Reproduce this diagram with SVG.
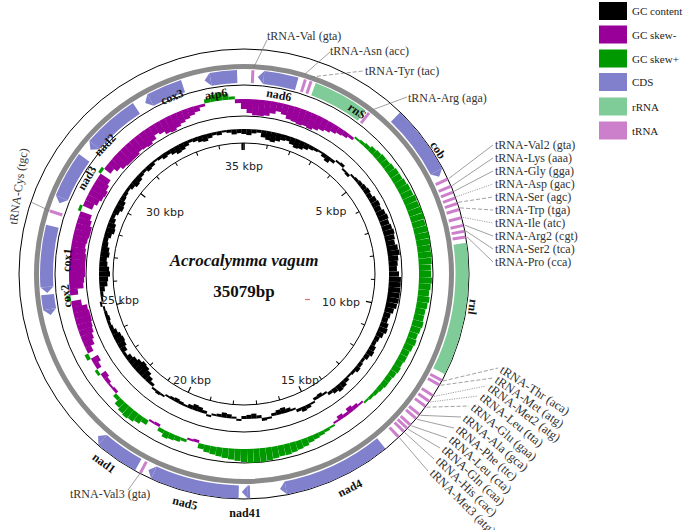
<svg xmlns="http://www.w3.org/2000/svg" width="685" height="530" viewBox="0 0 685 530">
<style>
.ln{fill:none;stroke:#000;stroke-width:1}
.bb{fill:none;stroke:#8a8a8a;stroke-width:5}
.m{fill:#990099}.g{fill:#009900}.k{fill:#000}
.sk rect{x:-3.1px;width:6.2px}
.gc rect{x:-2.6px;width:5.2px}
.cds{fill:none;stroke:#8080cc;stroke-width:13}
.rr{fill:none;stroke:#80cc99;stroke-width:13}
.ca{fill:#8080cc}
.tr{fill:#cc80cc}
.tk{fill:#000}
.gl{font-family:"Liberation Serif",serif;font-weight:bold;font-size:12px;fill:#111;text-anchor:middle}
.tl{font-family:"Liberation Serif",serif;font-size:12px;fill:#333}
.tb{font-size:12.5px}
.kb{font-family:"DejaVu Sans",sans-serif;font-size:11px;fill:#222;text-anchor:middle}
.lg{font-family:"Liberation Serif",serif;font-size:11px;fill:#222}
.ld{fill:none;stroke:#777;stroke-width:0.7}
.dt{stroke-dasharray:1.2 1.2}
.ds{stroke-dasharray:4 2}
</style>
<rect width="685" height="530" fill="#fff"/>

<g id="rings">
<circle class="ln" cx="244" cy="274" r="131"/>
<circle class="ln" cx="244" cy="274" r="158"/>
<circle class="ln" cx="244" cy="274" r="189"/>
<circle class="bb" cx="244" cy="274" r="207.5"/>
<circle class="ln" cx="244" cy="274" r="225"/>
</g>

<g id="gc-content" class="gc" transform="translate(244 274)">
<rect class="k" y="-145" height="5" transform="rotate(0)"/>
<rect class="k" y="-145" height="6" transform="rotate(2)"/>
<rect class="k" y="-145" height="4" transform="rotate(4)"/>
<rect class="k" y="-145" height="3" transform="rotate(6)"/>
<rect class="k" y="-145" height="7" transform="rotate(8)"/>
<rect class="k" y="-145" height="9" transform="rotate(10)"/>
<rect class="k" y="-145" height="10" transform="rotate(12)"/>
<rect class="k" y="-145" height="8" transform="rotate(14)"/>
<rect class="k" y="-145" height="6" transform="rotate(16)"/>
<rect class="k" y="-145" height="5" transform="rotate(18)"/>
<rect class="k" y="-145" height="7" transform="rotate(20)"/>
<rect class="k" y="-145" height="9" transform="rotate(22)"/>
<rect class="k" y="-145" height="8" transform="rotate(24)"/>
<rect class="k" y="-145" height="6" transform="rotate(26)"/>
<rect class="k" y="-145" height="4" transform="rotate(28)"/>
<rect class="k" y="-145" height="3" transform="rotate(30)"/>
<rect class="k" y="-145" height="2" transform="rotate(32)"/>
<rect class="k" y="-145" height="4" transform="rotate(34)"/>
<rect class="k" y="-145" height="6" transform="rotate(36)"/>
<rect class="k" y="-145" height="3" transform="rotate(38)"/>
<rect class="k" y="-147" height="2" transform="rotate(40)"/>
<rect class="k" y="-148" height="3" transform="rotate(42)"/>
<rect class="k" y="-145" height="2" transform="rotate(44)"/>
<rect class="k" y="-145" height="3" transform="rotate(46)"/>
<rect class="k" y="-147" height="2" transform="rotate(48)"/>
<rect class="k" y="-148" height="3" transform="rotate(50)"/>
<rect class="k" y="-149" height="4" transform="rotate(52)"/>
<rect class="k" y="-150" height="5" transform="rotate(54)"/>
<rect class="k" y="-151" height="6" transform="rotate(56)"/>
<rect class="k" y="-150" height="5" transform="rotate(58)"/>
<rect class="k" y="-152" height="7" transform="rotate(60)"/>
<rect class="k" y="-153" height="8" transform="rotate(62)"/>
<rect class="k" y="-152" height="7" transform="rotate(64)"/>
<rect class="k" y="-154" height="9" transform="rotate(66)"/>
<rect class="k" y="-155" height="10" transform="rotate(68)"/>
<rect class="k" y="-154" height="9" transform="rotate(70)"/>
<rect class="k" y="-155" height="10" transform="rotate(72)"/>
<rect class="k" y="-156" height="11" transform="rotate(74)"/>
<rect class="k" y="-155" height="10" transform="rotate(76)"/>
<rect class="k" y="-154" height="9" transform="rotate(78)"/>
<rect class="k" y="-156" height="11" transform="rotate(80)"/>
<rect class="k" y="-157" height="12" transform="rotate(82)"/>
<rect class="k" y="-155" height="10" transform="rotate(84)"/>
<rect class="k" y="-154" height="9" transform="rotate(86)"/>
<rect class="k" y="-153" height="8" transform="rotate(88)"/>
<rect class="k" y="-155" height="10" transform="rotate(90)"/>
<rect class="k" y="-157" height="12" transform="rotate(92)"/>
<rect class="k" y="-157" height="12" transform="rotate(94)"/>
<rect class="k" y="-157" height="12" transform="rotate(96)"/>
<rect class="k" y="-157" height="12" transform="rotate(98)"/>
<rect class="k" y="-157" height="12" transform="rotate(100)"/>
<rect class="k" y="-156" height="11" transform="rotate(102)"/>
<rect class="k" y="-154" height="9" transform="rotate(104)"/>
<rect class="k" y="-152" height="7" transform="rotate(106)"/>
<rect class="k" y="-151" height="6" transform="rotate(108)"/>
<rect class="k" y="-153" height="8" transform="rotate(110)"/>
<rect class="k" y="-154" height="9" transform="rotate(112)"/>
<rect class="k" y="-152" height="7" transform="rotate(114)"/>
<rect class="k" y="-150" height="5" transform="rotate(116)"/>
<rect class="k" y="-149" height="4" transform="rotate(118)"/>
<rect class="k" y="-151" height="6" transform="rotate(120)"/>
<rect class="k" y="-152" height="7" transform="rotate(122)"/>
<rect class="k" y="-150" height="5" transform="rotate(124)"/>
<rect class="k" y="-148" height="3" transform="rotate(126)"/>
<rect class="k" y="-149" height="4" transform="rotate(128)"/>
<rect class="k" y="-150" height="5" transform="rotate(130)"/>
<rect class="k" y="-148" height="3" transform="rotate(132)"/>
<rect class="k" y="-147" height="2" transform="rotate(134)"/>
<rect class="k" y="-149" height="4" transform="rotate(136)"/>
<rect class="k" y="-151" height="6" transform="rotate(138)"/>
<rect class="k" y="-152" height="7" transform="rotate(140)"/>
<rect class="k" y="-150" height="5" transform="rotate(142)"/>
<rect class="k" y="-148" height="3" transform="rotate(144)"/>
<rect class="k" y="-145" height="2" transform="rotate(146)"/>
<rect class="k" y="-145" height="4" transform="rotate(148)"/>
<rect class="k" y="-145" height="3" transform="rotate(150)"/>
<rect class="k" y="-147" height="2" transform="rotate(152)"/>
<rect class="k" y="-149" height="4" transform="rotate(154)"/>
<rect class="k" y="-150" height="5" transform="rotate(156)"/>
<rect class="k" y="-148" height="3" transform="rotate(158)"/>
<rect class="k" y="-145" height="2" transform="rotate(160)"/>
<rect class="k" y="-145" height="4" transform="rotate(162)"/>
<rect class="k" y="-145" height="6" transform="rotate(164)"/>
<rect class="k" y="-145" height="5" transform="rotate(166)"/>
<rect class="k" y="-145" height="3" transform="rotate(168)"/>
<rect class="k" y="-147" height="2" transform="rotate(170)"/>
<rect class="k" y="-148" height="3" transform="rotate(172)"/>
<rect class="k" y="-145" height="3" transform="rotate(174)"/>
<rect class="k" y="-145" height="5" transform="rotate(176)"/>
<rect class="k" y="-145" height="4" transform="rotate(178)"/>
<rect class="k" y="-145" height="3" transform="rotate(180)"/>
<rect class="k" y="-147" height="2" transform="rotate(182)"/>
<rect class="k" y="-145" height="2" transform="rotate(184)"/>
<rect class="k" y="-145" height="4" transform="rotate(186)"/>
<rect class="k" y="-145" height="5" transform="rotate(188)"/>
<rect class="k" y="-145" height="3" transform="rotate(190)"/>
<rect class="k" y="-145" height="2" transform="rotate(192)"/>
<rect class="k" y="-147" height="2" transform="rotate(194)"/>
<rect class="k" y="-145" height="3" transform="rotate(196)"/>
<rect class="k" y="-145" height="5" transform="rotate(198)"/>
<rect class="k" y="-145" height="6" transform="rotate(200)"/>
<rect class="k" y="-145" height="4" transform="rotate(202)"/>
<rect class="k" y="-145" height="2" transform="rotate(204)"/>
<rect class="k" y="-145" height="3" transform="rotate(206)"/>
<rect class="k" y="-145" height="4" transform="rotate(208)"/>
<rect class="k" y="-145" height="3" transform="rotate(210)"/>
<rect class="k" y="-145" height="2" transform="rotate(212)"/>
<rect class="k" y="-147" height="2" transform="rotate(214)"/>
<rect class="k" y="-148" height="3" transform="rotate(216)"/>
<rect class="k" y="-147" height="2" transform="rotate(218)"/>
<rect class="k" y="-145" height="3" transform="rotate(220)"/>
<rect class="k" y="-145" height="6" transform="rotate(222)"/>
<rect class="k" y="-145" height="9" transform="rotate(224)"/>
<rect class="k" y="-145" height="11" transform="rotate(226)"/>
<rect class="k" y="-145" height="12" transform="rotate(228)"/>
<rect class="k" y="-145" height="10" transform="rotate(230)"/>
<rect class="k" y="-145" height="8" transform="rotate(232)"/>
<rect class="k" y="-145" height="6" transform="rotate(234)"/>
<rect class="k" y="-145" height="3" transform="rotate(236)"/>
<rect class="k" y="-145" height="6" transform="rotate(238)"/>
<rect class="k" y="-145" height="8" transform="rotate(240)"/>
<rect class="k" y="-145" height="9" transform="rotate(242)"/>
<rect class="k" y="-145" height="8" transform="rotate(244)"/>
<rect class="k" y="-145" height="6" transform="rotate(246)"/>
<rect class="k" y="-145" height="4" transform="rotate(248)"/>
<rect class="k" y="-145" height="3" transform="rotate(250)"/>
<rect class="k" y="-145" height="4" transform="rotate(252)"/>
<rect class="k" y="-145" height="3" transform="rotate(254)"/>
<rect class="k" y="-145" height="2" transform="rotate(256)"/>
<rect class="k" y="-147" height="2" transform="rotate(258)"/>
<rect class="k" y="-145" height="2" transform="rotate(260)"/>
<rect class="k" y="-145" height="3" transform="rotate(262)"/>
<rect class="k" y="-145" height="5" transform="rotate(264)"/>
<rect class="k" y="-145" height="8" transform="rotate(266)"/>
<rect class="k" y="-145" height="9" transform="rotate(268)"/>
<rect class="k" y="-145" height="11" transform="rotate(270)"/>
<rect class="k" y="-145" height="10" transform="rotate(272)"/>
<rect class="k" y="-145" height="8" transform="rotate(274)"/>
<rect class="k" y="-145" height="7" transform="rotate(276)"/>
<rect class="k" y="-145" height="9" transform="rotate(278)"/>
<rect class="k" y="-145" height="8" transform="rotate(280)"/>
<rect class="k" y="-145" height="6" transform="rotate(282)"/>
<rect class="k" y="-145" height="5" transform="rotate(284)"/>
<rect class="k" y="-145" height="7" transform="rotate(286)"/>
<rect class="k" y="-145" height="9" transform="rotate(288)"/>
<rect class="k" y="-145" height="8" transform="rotate(290)"/>
<rect class="k" y="-145" height="6" transform="rotate(292)"/>
<rect class="k" y="-145" height="4" transform="rotate(294)"/>
<rect class="k" y="-145" height="6" transform="rotate(296)"/>
<rect class="k" y="-145" height="8" transform="rotate(298)"/>
<rect class="k" y="-145" height="7" transform="rotate(300)"/>
<rect class="k" y="-145" height="5" transform="rotate(302)"/>
<rect class="k" y="-145" height="4" transform="rotate(304)"/>
<rect class="k" y="-145" height="3" transform="rotate(306)"/>
<rect class="k" y="-145" height="5" transform="rotate(308)"/>
<rect class="k" y="-145" height="7" transform="rotate(310)"/>
<rect class="k" y="-145" height="6" transform="rotate(312)"/>
<rect class="k" y="-145" height="4" transform="rotate(314)"/>
<rect class="k" y="-145" height="3" transform="rotate(316)"/>
<rect class="k" y="-145" height="5" transform="rotate(318)"/>
<rect class="k" y="-145" height="4" transform="rotate(320)"/>
<rect class="k" y="-145" height="2" transform="rotate(322)"/>
<rect class="k" y="-145" height="3" transform="rotate(324)"/>
<rect class="k" y="-145" height="5" transform="rotate(326)"/>
<rect class="k" y="-145" height="4" transform="rotate(328)"/>
<rect class="k" y="-145" height="6" transform="rotate(330)"/>
<rect class="k" y="-145" height="8" transform="rotate(332)"/>
<rect class="k" y="-145" height="7" transform="rotate(334)"/>
<rect class="k" y="-145" height="5" transform="rotate(336)"/>
<rect class="k" y="-145" height="3" transform="rotate(338)"/>
<rect class="k" y="-145" height="4" transform="rotate(340)"/>
<rect class="k" y="-145" height="6" transform="rotate(342)"/>
<rect class="k" y="-145" height="7" transform="rotate(344)"/>
<rect class="k" y="-145" height="5" transform="rotate(346)"/>
<rect class="k" y="-145" height="3" transform="rotate(348)"/>
<rect class="k" y="-145" height="4" transform="rotate(350)"/>
<rect class="k" y="-145" height="2" transform="rotate(352)"/>
<rect class="k" y="-145" height="3" transform="rotate(354)"/>
<rect class="k" y="-145" height="5" transform="rotate(356)"/>
<rect class="k" y="-145" height="4" transform="rotate(358)"/>
</g>

<g id="gc-skew" class="sk" transform="translate(244 274)">
<rect class="m" y="-175" height="10" transform="rotate(0)"/>
<rect class="m" y="-175" height="14" transform="rotate(2)"/>
<rect class="m" y="-175" height="16" transform="rotate(4)"/>
<rect class="m" y="-175" height="16" transform="rotate(6)"/>
<rect class="m" y="-175" height="15" transform="rotate(8)"/>
<rect class="m" y="-175" height="12" transform="rotate(10)"/>
<rect class="m" y="-175" height="9" transform="rotate(12)"/>
<rect class="m" y="-175" height="11" transform="rotate(14)"/>
<rect class="m" y="-175" height="14" transform="rotate(16)"/>
<rect class="m" y="-175" height="15" transform="rotate(18)"/>
<rect class="m" y="-175" height="16" transform="rotate(20)"/>
<rect class="m" y="-175" height="15" transform="rotate(22)"/>
<rect class="m" y="-175" height="16" transform="rotate(24)"/>
<rect class="m" y="-175" height="14" transform="rotate(26)"/>
<rect class="m" y="-175" height="12" transform="rotate(28)"/>
<rect class="m" y="-175" height="10" transform="rotate(30)"/>
<rect class="m" y="-175" height="8" transform="rotate(32)"/>
<rect class="m" y="-175" height="6" transform="rotate(34)"/>
<rect class="m" y="-175" height="5" transform="rotate(36)"/>
<rect class="m" y="-175" height="3" transform="rotate(38)"/>
<rect class="g" y="-177" height="2" transform="rotate(40)"/>
<rect class="g" y="-178" height="3" transform="rotate(42)"/>
<rect class="g" y="-179" height="4" transform="rotate(44)"/>
<rect class="g" y="-181" height="6" transform="rotate(46)"/>
<rect class="g" y="-182" height="7" transform="rotate(48)"/>
<rect class="g" y="-183" height="8" transform="rotate(50)"/>
<rect class="g" y="-183" height="8" transform="rotate(52)"/>
<rect class="g" y="-184" height="9" transform="rotate(54)"/>
<rect class="g" y="-185" height="10" transform="rotate(56)"/>
<rect class="g" y="-185" height="10" transform="rotate(58)"/>
<rect class="g" y="-186" height="11" transform="rotate(60)"/>
<rect class="g" y="-187" height="12" transform="rotate(62)"/>
<rect class="g" y="-187" height="12" transform="rotate(64)"/>
<rect class="g" y="-188" height="13" transform="rotate(66)"/>
<rect class="g" y="-188" height="13" transform="rotate(68)"/>
<rect class="g" y="-189" height="14" transform="rotate(70)"/>
<rect class="g" y="-189" height="14" transform="rotate(72)"/>
<rect class="g" y="-188" height="13" transform="rotate(74)"/>
<rect class="g" y="-189" height="14" transform="rotate(76)"/>
<rect class="g" y="-189" height="14" transform="rotate(78)"/>
<rect class="g" y="-189" height="14" transform="rotate(80)"/>
<rect class="g" y="-188" height="13" transform="rotate(82)"/>
<rect class="g" y="-189" height="14" transform="rotate(84)"/>
<rect class="g" y="-188" height="13" transform="rotate(86)"/>
<rect class="g" y="-187" height="12" transform="rotate(88)"/>
<rect class="g" y="-187" height="12" transform="rotate(90)"/>
<rect class="g" y="-188" height="13" transform="rotate(92)"/>
<rect class="g" y="-187" height="12" transform="rotate(94)"/>
<rect class="g" y="-186" height="11" transform="rotate(96)"/>
<rect class="g" y="-187" height="12" transform="rotate(98)"/>
<rect class="g" y="-186" height="11" transform="rotate(100)"/>
<rect class="g" y="-185" height="10" transform="rotate(102)"/>
<rect class="g" y="-185" height="10" transform="rotate(104)"/>
<rect class="g" y="-186" height="11" transform="rotate(106)"/>
<rect class="g" y="-185" height="10" transform="rotate(108)"/>
<rect class="g" y="-184" height="9" transform="rotate(110)"/>
<rect class="g" y="-185" height="10" transform="rotate(112)"/>
<rect class="g" y="-184" height="9" transform="rotate(114)"/>
<rect class="g" y="-183" height="8" transform="rotate(116)"/>
<rect class="g" y="-183" height="8" transform="rotate(118)"/>
<rect class="g" y="-182" height="7" transform="rotate(120)"/>
<rect class="g" y="-183" height="8" transform="rotate(122)"/>
<rect class="g" y="-182" height="7" transform="rotate(124)"/>
<rect class="g" y="-181" height="6" transform="rotate(126)"/>
<rect class="g" y="-181" height="6" transform="rotate(128)"/>
<rect class="g" y="-180" height="5" transform="rotate(130)"/>
<rect class="g" y="-179" height="4" transform="rotate(132)"/>
<rect class="g" y="-178" height="3" transform="rotate(134)"/>
<rect class="g" y="-177" height="2" transform="rotate(136)"/>
<rect class="m" y="-175" height="2" transform="rotate(138)"/>
<rect class="m" y="-175" height="4" transform="rotate(140)"/>
<rect class="m" y="-175" height="6" transform="rotate(142)"/>
<rect class="m" y="-175" height="3" transform="rotate(144)"/>
<rect class="m" y="-175" height="5" transform="rotate(146)"/>
<rect class="m" y="-175" height="2" transform="rotate(148)"/>
<rect class="g" y="-177" height="2" transform="rotate(150)"/>
<rect class="g" y="-178" height="3" transform="rotate(152)"/>
<rect class="g" y="-179" height="4" transform="rotate(154)"/>
<rect class="g" y="-180" height="5" transform="rotate(156)"/>
<rect class="g" y="-181" height="6" transform="rotate(158)"/>
<rect class="g" y="-183" height="8" transform="rotate(160)"/>
<rect class="g" y="-184" height="9" transform="rotate(162)"/>
<rect class="g" y="-185" height="10" transform="rotate(164)"/>
<rect class="g" y="-186" height="11" transform="rotate(166)"/>
<rect class="g" y="-186" height="11" transform="rotate(168)"/>
<rect class="g" y="-187" height="12" transform="rotate(170)"/>
<rect class="g" y="-188" height="13" transform="rotate(172)"/>
<rect class="g" y="-189" height="14" transform="rotate(174)"/>
<rect class="g" y="-189" height="14" transform="rotate(176)"/>
<rect class="g" y="-189" height="14" transform="rotate(178)"/>
<rect class="g" y="-188" height="13" transform="rotate(180)"/>
<rect class="g" y="-187" height="12" transform="rotate(182)"/>
<rect class="g" y="-186" height="11" transform="rotate(184)"/>
<rect class="g" y="-185" height="10" transform="rotate(186)"/>
<rect class="g" y="-184" height="9" transform="rotate(188)"/>
<rect class="g" y="-183" height="8" transform="rotate(190)"/>
<rect class="g" y="-182" height="7" transform="rotate(192)"/>
<rect class="g" y="-180" height="5" transform="rotate(194)"/>
<rect class="m" y="-175" height="3" transform="rotate(196)"/>
<rect class="m" y="-175" height="2" transform="rotate(198)"/>
<rect class="g" y="-178" height="3" transform="rotate(200)"/>
<rect class="g" y="-180" height="5" transform="rotate(202)"/>
<rect class="g" y="-181" height="6" transform="rotate(204)"/>
<rect class="g" y="-182" height="7" transform="rotate(206)"/>
<rect class="g" y="-179" height="4" transform="rotate(208)"/>
<rect class="m" y="-175" height="3" transform="rotate(210)"/>
<rect class="m" y="-175" height="2" transform="rotate(212)"/>
<rect class="g" y="-180" height="5" transform="rotate(214)"/>
<rect class="g" y="-183" height="8" transform="rotate(216)"/>
<rect class="g" y="-185" height="10" transform="rotate(218)"/>
<rect class="g" y="-186" height="11" transform="rotate(220)"/>
<rect class="g" y="-185" height="10" transform="rotate(222)"/>
<rect class="g" y="-183" height="8" transform="rotate(224)"/>
<rect class="g" y="-179" height="4" transform="rotate(226)"/>
<rect class="m" y="-175" height="3" transform="rotate(228)"/>
<rect class="m" y="-175" height="2" transform="rotate(230)"/>
<rect class="m" y="-175" height="4" transform="rotate(232)"/>
<rect class="m" y="-175" height="6" transform="rotate(234)"/>
<rect class="g" y="-178" height="3" transform="rotate(236)"/>
<rect class="m" y="-175" height="5" transform="rotate(238)"/>
<rect class="m" y="-175" height="8" transform="rotate(240)"/>
<rect class="g" y="-179" height="4" transform="rotate(242)"/>
<rect class="m" y="-175" height="6" transform="rotate(244)"/>
<rect class="m" y="-175" height="10" transform="rotate(246)"/>
<rect class="m" y="-175" height="12" transform="rotate(248)"/>
<rect class="m" y="-175" height="14" transform="rotate(250)"/>
<rect class="m" y="-175" height="15" transform="rotate(252)"/>
<rect class="m" y="-175" height="16" transform="rotate(254)"/>
<rect class="m" y="-175" height="16" transform="rotate(256)"/>
<rect class="m" y="-175" height="15" transform="rotate(258)"/>
<rect class="m" y="-175" height="10" transform="rotate(260)"/>
<rect class="g" y="-179" height="4" transform="rotate(262)"/>
<rect class="m" y="-175" height="8" transform="rotate(264)"/>
<rect class="m" y="-175" height="14" transform="rotate(266)"/>
<rect class="m" y="-175" height="15" transform="rotate(268)"/>
<rect class="m" y="-175" height="16" transform="rotate(270)"/>
<rect class="m" y="-175" height="16" transform="rotate(272)"/>
<rect class="m" y="-175" height="16" transform="rotate(274)"/>
<rect class="m" y="-175" height="16" transform="rotate(276)"/>
<rect class="m" y="-175" height="15" transform="rotate(278)"/>
<rect class="m" y="-175" height="14" transform="rotate(280)"/>
<rect class="m" y="-175" height="15" transform="rotate(282)"/>
<rect class="m" y="-175" height="16" transform="rotate(284)"/>
<rect class="m" y="-175" height="16" transform="rotate(286)"/>
<rect class="m" y="-175" height="14" transform="rotate(288)"/>
<rect class="m" y="-175" height="12" transform="rotate(290)"/>
<rect class="g" y="-178" height="3" transform="rotate(292)"/>
<rect class="m" y="-175" height="10" transform="rotate(294)"/>
<rect class="m" y="-175" height="13" transform="rotate(296)"/>
<rect class="m" y="-175" height="15" transform="rotate(298)"/>
<rect class="m" y="-175" height="16" transform="rotate(300)"/>
<rect class="m" y="-175" height="14" transform="rotate(302)"/>
<rect class="m" y="-175" height="12" transform="rotate(304)"/>
<rect class="g" y="-178" height="3" transform="rotate(306)"/>
<rect class="m" y="-175" height="8" transform="rotate(308)"/>
<rect class="m" y="-175" height="12" transform="rotate(310)"/>
<rect class="m" y="-175" height="15" transform="rotate(312)"/>
<rect class="m" y="-175" height="16" transform="rotate(314)"/>
<rect class="m" y="-175" height="16" transform="rotate(316)"/>
<rect class="m" y="-175" height="16" transform="rotate(318)"/>
<rect class="m" y="-175" height="14" transform="rotate(320)"/>
<rect class="m" y="-175" height="15" transform="rotate(322)"/>
<rect class="m" y="-175" height="16" transform="rotate(324)"/>
<rect class="m" y="-175" height="14" transform="rotate(326)"/>
<rect class="m" y="-175" height="10" transform="rotate(328)"/>
<rect class="m" y="-175" height="12" transform="rotate(330)"/>
<rect class="m" y="-175" height="15" transform="rotate(332)"/>
<rect class="m" y="-175" height="16" transform="rotate(334)"/>
<rect class="m" y="-175" height="14" transform="rotate(336)"/>
<rect class="m" y="-175" height="12" transform="rotate(338)"/>
<rect class="m" y="-175" height="10" transform="rotate(340)"/>
<rect class="m" y="-175" height="8" transform="rotate(342)"/>
<rect class="m" y="-175" height="6" transform="rotate(344)"/>
<rect class="m" y="-175" height="3" transform="rotate(346)"/>
<rect class="g" y="-179" height="4" transform="rotate(348)"/>
<rect class="g" y="-182" height="7" transform="rotate(350)"/>
<rect class="g" y="-183" height="8" transform="rotate(352)"/>
<rect class="g" y="-181" height="6" transform="rotate(354)"/>
<rect class="g" y="-178" height="3" transform="rotate(356)"/>
<rect class="m" y="-175" height="4" transform="rotate(358)"/>
</g>

<g id="ticks" transform="translate(244 274)">
<rect class="tk" x="-0.8" y="-131" width="1.6" height="7" transform="rotate(0)"/>
<rect class="tk" x="-0.5" y="-131" width="1" height="4" transform="rotate(10.26)"/>
<rect class="tk" x="-0.5" y="-131" width="1" height="4" transform="rotate(20.53)"/>
<rect class="tk" x="-0.5" y="-131" width="1" height="4" transform="rotate(30.79)"/>
<rect class="tk" x="-0.5" y="-131" width="1" height="4" transform="rotate(41.05)"/>
<rect class="tk" x="-0.6" y="-131" width="1.2" height="6" transform="rotate(51.31)"/>
<rect class="tk" x="-0.5" y="-131" width="1" height="4" transform="rotate(61.58)"/>
<rect class="tk" x="-0.5" y="-131" width="1" height="4" transform="rotate(71.84)"/>
<rect class="tk" x="-0.5" y="-131" width="1" height="4" transform="rotate(82.10)"/>
<rect class="tk" x="-0.5" y="-131" width="1" height="4" transform="rotate(92.36)"/>
<rect class="tk" x="-0.6" y="-131" width="1.2" height="6" transform="rotate(102.63)"/>
<rect class="tk" x="-0.5" y="-131" width="1" height="4" transform="rotate(112.89)"/>
<rect class="tk" x="-0.5" y="-131" width="1" height="4" transform="rotate(123.15)"/>
<rect class="tk" x="-0.5" y="-131" width="1" height="4" transform="rotate(133.41)"/>
<rect class="tk" x="-0.5" y="-131" width="1" height="4" transform="rotate(143.68)"/>
<rect class="tk" x="-0.6" y="-131" width="1.2" height="6" transform="rotate(153.94)"/>
<rect class="tk" x="-0.5" y="-131" width="1" height="4" transform="rotate(164.20)"/>
<rect class="tk" x="-0.5" y="-131" width="1" height="4" transform="rotate(174.46)"/>
<rect class="tk" x="-0.5" y="-131" width="1" height="4" transform="rotate(184.73)"/>
<rect class="tk" x="-0.5" y="-131" width="1" height="4" transform="rotate(194.99)"/>
<rect class="tk" x="-0.6" y="-131" width="1.2" height="6" transform="rotate(205.25)"/>
<rect class="tk" x="-0.5" y="-131" width="1" height="4" transform="rotate(215.51)"/>
<rect class="tk" x="-0.5" y="-131" width="1" height="4" transform="rotate(225.78)"/>
<rect class="tk" x="-0.5" y="-131" width="1" height="4" transform="rotate(236.04)"/>
<rect class="tk" x="-0.5" y="-131" width="1" height="4" transform="rotate(246.30)"/>
<rect class="tk" x="-0.6" y="-131" width="1.2" height="6" transform="rotate(256.57)"/>
<rect class="tk" x="-0.5" y="-131" width="1" height="4" transform="rotate(266.83)"/>
<rect class="tk" x="-0.5" y="-131" width="1" height="4" transform="rotate(277.09)"/>
<rect class="tk" x="-0.5" y="-131" width="1" height="4" transform="rotate(287.35)"/>
<rect class="tk" x="-0.5" y="-131" width="1" height="4" transform="rotate(297.62)"/>
<rect class="tk" x="-0.6" y="-131" width="1.2" height="6" transform="rotate(307.88)"/>
<rect class="tk" x="-0.5" y="-131" width="1" height="4" transform="rotate(318.14)"/>
<rect class="tk" x="-0.5" y="-131" width="1" height="4" transform="rotate(328.40)"/>
<rect class="tk" x="-0.5" y="-131" width="1" height="4" transform="rotate(338.67)"/>
<rect class="tk" x="-0.5" y="-131" width="1" height="4" transform="rotate(348.93)"/>
<rect class="tk" x="-0.8" y="-131" width="1.6" height="7" transform="rotate(359.19)"/>
</g>
<g id="tick-labels" class="kb">
<text x="244" y="170">35 kbp</text>
<text x="331" y="215">5 kbp</text>
<text x="341" y="306">10 kbp</text>
<text x="300" y="384">15 kbp</text>
<text x="192" y="384">20 kbp</text>
<text x="120" y="304">25 kbp</text>
<text x="165" y="216">30 kbp</text>
</g>

<g id="connectors" class="ld">
<path d="M253.5,68 L267,40"/>
<path d="M305,74 L330,52"/>
<path class="ds" d="M311,77 L363,71"/>
<path d="M372,110 L407,97"/>
<path d="M50,211 L31,202"/>
<path d="M140.6,472.7 L128,490"/>
<path d="M448.8,178.5 L493,145"/>
<path d="M452,185.7 L493,158"/>
<path d="M454.3,191.2 L493,171"/>
<path class="dt" d="M456.4,196.7 L493,184"/>
<path class="ds" d="M458.3,202.3 L493,197"/>
<path class="ds" d="M460.1,207.9 L493,210"/>
<path class="dt" d="M462.8,217.4 L493,223"/>
<path d="M464.6,225.1 L493,236"/>
<path d="M465.8,230.9 L493,249"/>
<path d="M466.9,236.7 L493,262"/>
<path class="ds" d="M443,381 L498,368"/>
<path class="ds" d="M440.7,385.3 L493,378"/>
<path class="dt" d="M434,396.4 L486,386"/>
<path class="dt" d="M430.2,402 L478,396"/>
<path class="ds" d="M426.6,407.2 L469,406"/>
<path d="M420.4,415.3 L461,417"/>
<path d="M417.1,419.3 L454,428"/>
<path d="M411.4,425.8 L447,438"/>
<path d="M408.2,429.3 L440,448"/>
<path d="M404.9,432.7 L434,459"/>
<path d="M399.6,437.9 L428,471"/>
</g>

<g id="cox3"><circle class="cds" r="197.5" pathLength="360" stroke-dasharray="10.26 400" stroke-dashoffset="-331.74" transform="translate(244 274) rotate(-90)"/><polygon class="ca" points="0,-191 0,-204 -6,-197.5" transform="translate(244 274) rotate(331.74)"/><text class="gl" transform="translate(172 97) rotate(-22)" y="4">cox3</text></g>
<g id="atp6"><circle class="cds" r="197.5" pathLength="360" stroke-dasharray="7.76 400" stroke-dashoffset="-350.24" transform="translate(244 274) rotate(-90)"/><polygon class="ca" points="0,-191 0,-204 -6,-197.5" transform="translate(244 274) rotate(350.24)"/><text class="gl" transform="translate(216 94) rotate(-9)" y="4">atp6</text></g>
<g id="trna-val"><rect class="tr" x="-1.5" y="-204" width="3" height="13" transform="translate(244 274) rotate(2.5)"/><text class="tl" x="267" y="40">tRNA-Val (gta)</text></g>
<g id="nad6"><circle class="cds" r="197.5" pathLength="360" stroke-dasharray="9.76 400" stroke-dashoffset="-5.74" transform="translate(244 274) rotate(-90)"/><polygon class="ca" points="0,-191 0,-204 -6,-197.5" transform="translate(244 274) rotate(5.74)"/><text class="gl" transform="translate(279 95) rotate(11)" y="4">nad6</text></g>
<g id="trna-asn"><rect class="tr" x="-1.5" y="-204" width="3" height="13" transform="translate(244 274) rotate(17.5)"/><text class="tl" x="330" y="55">tRNA-Asn (acc)</text></g>
<g id="trna-tyr"><rect class="tr" x="-1.5" y="-204" width="3" height="13" transform="translate(244 274) rotate(19.2)"/><text class="tl" x="365" y="75">tRNA-Tyr (tac)</text></g>
<g id="rns"><circle class="rr" r="197.5" pathLength="360" stroke-dasharray="16 400" stroke-dashoffset="-20.6" transform="translate(244 274) rotate(-90)"/><text class="gl" transform="translate(357 111) rotate(35)" y="4">rnS</text></g>
<g id="trna-arg"><rect class="tr" x="-1.5" y="-204" width="3" height="13" transform="translate(244 274) rotate(37.8)"/><text class="tl" x="408" y="102">tRNA-Arg (aga)</text></g>
<g id="cob"><circle class="cds" r="218" pathLength="360" stroke-dasharray="17.92 400" stroke-dashoffset="-44" transform="translate(244 274) rotate(-90)"/><polygon class="ca" points="0,-211.5 0,-224.5 6,-218" transform="translate(244 274) rotate(61.92)"/><text class="gl" transform="translate(438 150) rotate(57)" y="4">cob</text></g>
<g id="trna-right" class="tr" transform="translate(244 274)">
<rect x="-1.5" y="-224.5" width="3" height="13" transform="rotate(65)"/>
<rect x="-1.5" y="-224.5" width="3" height="13" transform="rotate(67)"/>
<rect x="-1.5" y="-224.5" width="3" height="13" transform="rotate(68.6)"/>
<rect x="-1.5" y="-224.5" width="3" height="13" transform="rotate(70.2)"/>
<rect x="-1.5" y="-224.5" width="3" height="13" transform="rotate(71.7)"/>
<rect x="-1.5" y="-224.5" width="3" height="13" transform="rotate(73.3)"/>
<rect x="-1.5" y="-224.5" width="3" height="13" transform="rotate(75.5)"/>
<rect x="-1.5" y="-224.5" width="3" height="13" transform="rotate(77.5)"/>
<rect x="-1.5" y="-224.5" width="3" height="13" transform="rotate(79)"/>
<rect x="-1.5" y="-224.5" width="3" height="13" transform="rotate(80.5)"/>
</g>
<g id="trna-right-labels" class="tl">
<text x="495" y="149">tRNA-Val2 (gta)</text>
<text x="495" y="162">tRNA-Lys (aaa)</text>
<text x="495" y="175">tRNA-Gly (gga)</text>
<text x="495" y="188">tRNA-Asp (gac)</text>
<text x="495" y="201">tRNA-Ser (agc)</text>
<text x="495" y="214">tRNA-Trp (tga)</text>
<text x="495" y="227">tRNA-Ile (atc)</text>
<text x="495" y="240">tRNA-Arg2 (cgt)</text>
<text x="495" y="253">tRNA-Ser2 (tca)</text>
<text x="495" y="266">tRNA-Pro (cca)</text>
</g>
<g id="rnl"><circle class="rr" r="218" pathLength="360" stroke-dasharray="34.5 400" stroke-dashoffset="-82" transform="translate(244 274) rotate(-90)"/><text class="gl" transform="translate(473 307) rotate(98)" y="4">rnl</text></g>
<g id="trna-lower" class="tr" transform="translate(244 274)">
<rect x="-1.5" y="-224.5" width="3" height="13" transform="rotate(118.3)"/>
<rect x="-1.5" y="-224.5" width="3" height="13" transform="rotate(119.6)"/>
<rect x="-1.5" y="-224.5" width="3" height="13" transform="rotate(122.8)"/>
<rect x="-1.5" y="-224.5" width="3" height="13" transform="rotate(124.5)"/>
<rect x="-1.5" y="-224.5" width="3" height="13" transform="rotate(126.1)"/>
<rect x="-1.5" y="-224.5" width="3" height="13" transform="rotate(128.7)"/>
<rect x="-1.5" y="-224.5" width="3" height="13" transform="rotate(130)"/>
<rect x="-1.5" y="-224.5" width="3" height="13" transform="rotate(132.2)"/>
<rect x="-1.5" y="-224.5" width="3" height="13" transform="rotate(133.4)"/>
<rect x="-1.5" y="-224.5" width="3" height="13" transform="rotate(134.6)"/>
<rect x="-1.5" y="-224.5" width="3" height="13" transform="rotate(136.5)"/>
</g>
<g id="trna-lower-labels" class="tl tb">
<text transform="translate(499 372) rotate(33)">tRNA-Thr (aca)</text>
<text transform="translate(494 382) rotate(35)">tRNA-Met (atg)</text>
<text transform="translate(487 390) rotate(37)">tRNA-Met2 (atg)</text>
<text transform="translate(479 399) rotate(39)">tRNA-Leu (tta)</text>
<text transform="translate(470 409) rotate(40)">tRNA-Glu (gaa)</text>
<text transform="translate(462 420) rotate(40)">tRNA-Ala (gca)</text>
<text transform="translate(455 431) rotate(41)">tRNA-Phe (ttc)</text>
<text transform="translate(448 441) rotate(42)">tRNA-Leu (cta)</text>
<text transform="translate(441 451) rotate(43)">tRNA-Gln (caa)</text>
<text transform="translate(435 462) rotate(44)">tRNA-His (cac)</text>
<text transform="translate(429 474) rotate(45)">tRNA-Met3 (atg)</text>
</g>
<g id="nad4"><circle class="cds" r="218" pathLength="360" stroke-dasharray="27.92 400" stroke-dashoffset="-141" transform="translate(244 274) rotate(-90)"/><polygon class="ca" points="0,-211.5 0,-224.5 6,-218" transform="translate(244 274) rotate(168.92)"/><text class="gl" transform="translate(350 488) rotate(-26)" y="4">nad4</text></g>
<g id="nad41"><circle class="cds" r="218" pathLength="360" stroke-dasharray="0.6 400" stroke-dashoffset="-178.4" transform="translate(244 274) rotate(-90)"/><polygon class="ca" points="0,-211.5 0,-224.5 6,-218" transform="translate(244 274) rotate(179)"/><text class="gl" x="245" y="517">nad41</text></g>
<g id="nad5"><circle class="cds" r="218" pathLength="360" stroke-dasharray="23.02 400" stroke-dashoffset="-181.4" transform="translate(244 274) rotate(-90)"/><polygon class="ca" points="0,-211.5 0,-224.5 6,-218" transform="translate(244 274) rotate(204.42)"/><text class="gl" transform="translate(185 503) rotate(14)" y="4">nad5</text></g>
<g id="trna-val3"><rect class="tr" x="-1.5" y="-224.5" width="3" height="13" transform="translate(244 274) rotate(207.5)"/><text class="tl" x="70" y="498">tRNA-Val3 (gta)</text></g>
<g id="nad1"><circle class="cds" r="218" pathLength="360" stroke-dasharray="11.42 400" stroke-dashoffset="-209" transform="translate(244 274) rotate(-90)"/><polygon class="ca" points="0,-211.5 0,-224.5 6,-218" transform="translate(244 274) rotate(220.42)"/><text class="gl" transform="translate(104 463) rotate(36)" y="4">nad1</text></g>
<g id="cox2"><circle class="cds" r="197.5" pathLength="360" stroke-dasharray="4.26 400" stroke-dashoffset="-259.74" transform="translate(244 274) rotate(-90)"/><polygon class="ca" points="0,-191 0,-204 -6,-197.5" transform="translate(244 274) rotate(259.74)"/><text class="gl" transform="translate(66 296) rotate(-97)" y="4">cox2</text></g>
<g id="cox1"><circle class="cds" r="197.5" pathLength="360" stroke-dasharray="17.76 400" stroke-dashoffset="-266.24" transform="translate(244 274) rotate(-90)"/><polygon class="ca" points="0,-191 0,-204 -6,-197.5" transform="translate(244 274) rotate(266.24)"/><text class="gl" transform="translate(67 260) rotate(-85)" y="4">cox1</text></g>
<g id="trna-cys"><rect class="tr" x="-1.5" y="-204" width="3" height="13" transform="translate(244 274) rotate(288)"/><text class="tl" transform="translate(17 225) rotate(-82)">tRNA-Cys (tgc)</text></g>
<g id="nad3"><circle class="cds" r="197.5" pathLength="360" stroke-dasharray="13.26 400" stroke-dashoffset="-292.74" transform="translate(244 274) rotate(-90)"/><polygon class="ca" points="0,-191 0,-204 -6,-197.5" transform="translate(244 274) rotate(292.74)"/><text class="gl" transform="translate(87 178) rotate(-59)" y="4">nad3</text></g>
<g id="nad2"><circle class="cds" r="197.5" pathLength="360" stroke-dasharray="16.26 400" stroke-dashoffset="-310.74" transform="translate(244 274) rotate(-90)"/><polygon class="ca" points="0,-191 0,-204 -6,-197.5" transform="translate(244 274) rotate(310.74)"/><text class="gl" transform="translate(105 145) rotate(-47)" y="4">nad2</text></g>

<g id="title">
<text x="244" y="266" font-family="Liberation Serif, serif" font-weight="bold" font-style="italic" font-size="17" fill="#111" text-anchor="middle">Acrocalymma vagum</text>
<text x="244" y="297" font-family="Liberation Serif, serif" font-weight="bold" font-size="17" fill="#111" text-anchor="middle">35079bp</text>
<line x1="305" y1="299.5" x2="310" y2="299.5" stroke="#e07070" stroke-width="1.2"/>
</g>

<g id="legend">
<rect x="599" y="2" width="28" height="18" fill="#000"/>
<rect x="599" y="25.5" width="28" height="18" fill="#990099"/>
<rect x="599" y="49.5" width="28" height="18" fill="#009900"/>
<rect x="599" y="73" width="28" height="18" fill="#8080cc"/>
<rect x="599" y="97.5" width="28" height="18" fill="#80cc99"/>
<rect x="599" y="121.5" width="28" height="18" fill="#cc80cc"/>
<text class="lg" x="632" y="15">GC content</text>
<text class="lg" x="632" y="38.5">GC skew-</text>
<text class="lg" x="632" y="62.5">GC skew+</text>
<text class="lg" x="632" y="86">CDS</text>
<text class="lg" x="632" y="110.5">rRNA</text>
<text class="lg" x="632" y="134.5">tRNA</text>
</g>
</svg>
